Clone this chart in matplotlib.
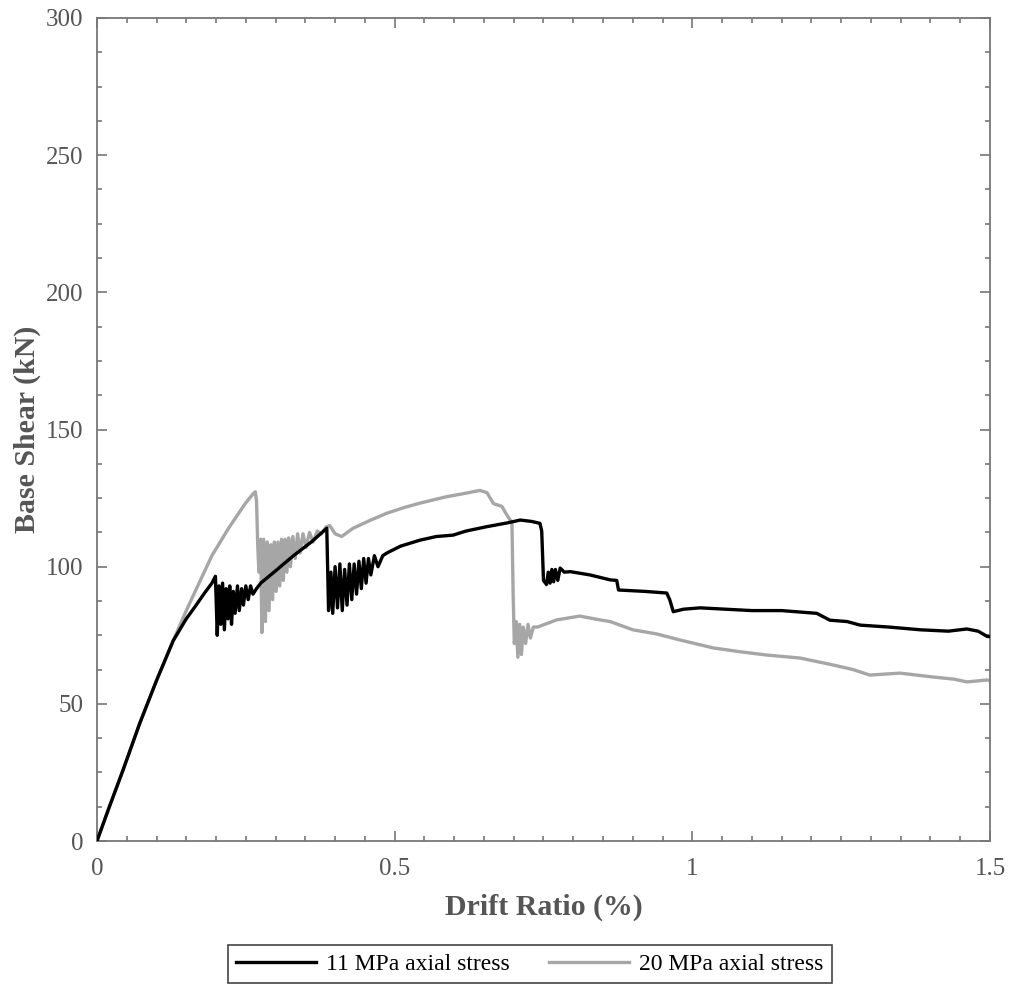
import matplotlib
matplotlib.use("Agg")
import matplotlib.pyplot as plt
from matplotlib.ticker import MultipleLocator
import numpy as np

# Kurvendaten
drift_11 = [0, 0.020, 0.044, 0.072, 0.100, 0.128, 0.150, 0.165, 0.181, 0.193, 0.199,
            0.202, 0.205, 0.208, 0.211, 0.214, 0.217, 0.220, 0.223, 0.226, 0.229, 0.232, 0.236,
            0.239, 0.243, 0.246, 0.250, 0.254, 0.258, 0.262, 0.268, 0.275, 0.300, 0.330, 0.360,
            0.386, 0.389, 0.393, 0.396, 0.400, 0.404, 0.408, 0.412, 0.416, 0.420, 0.424, 0.428,
            0.432, 0.436, 0.440, 0.444, 0.448, 0.452, 0.456, 0.460, 0.466, 0.472, 0.480, 0.487,
            0.510, 0.543, 0.570, 0.598, 0.620, 0.655, 0.690, 0.711, 0.730, 0.744, 0.747, 0.750,
            0.755, 0.758, 0.761, 0.764, 0.767, 0.770, 0.774, 0.778, 0.785, 0.795, 0.828, 0.862,
            0.873, 0.876, 0.920, 0.957, 0.962, 0.968, 0.985, 1.013, 1.100, 1.150, 1.209, 1.231,
            1.260, 1.282, 1.330, 1.383, 1.430, 1.461, 1.480, 1.495, 1.500]
shear_11 = [0, 12, 26, 43, 58.5, 73, 81, 85.5, 90.5, 94, 96.5,
            75, 93, 79, 94, 77, 92, 81, 93, 79, 91, 83, 93,
            84, 92, 86, 93, 88, 93, 90, 92, 94, 98.5, 104, 109,
            114, 84, 98, 83, 100, 85, 101, 84, 99, 86, 101, 88,
            101, 90, 102, 92, 103, 94, 103, 97, 104, 100, 104, 105,
            107.5, 109.7, 111, 111.5, 113, 114.6, 116, 117, 116.5, 115.8, 113, 95,
            93.5, 98, 94, 99, 94.5, 99, 95, 99.5, 98, 98.2, 97, 95.2,
            95, 91.5, 91, 90.4, 88, 83.6, 84.5, 85, 84, 84, 83, 80.5,
            80, 78.7, 78, 77, 76.5, 77.3, 76.5, 74.6, 74.5]

drift_20 = [0, 0.020, 0.044, 0.072, 0.100, 0.128, 0.150, 0.165, 0.193, 0.221, 0.249,
            0.262, 0.266, 0.268, 0.270, 0.272, 0.275, 0.277, 0.280, 0.283, 0.286, 0.289, 0.292,
            0.295, 0.298, 0.301, 0.304, 0.307, 0.310, 0.313, 0.316, 0.319, 0.322, 0.325, 0.329,
            0.333, 0.337, 0.341, 0.346, 0.351, 0.357, 0.363, 0.370, 0.377, 0.385, 0.391, 0.400,
            0.411, 0.430, 0.460, 0.487, 0.515, 0.543, 0.587, 0.620, 0.643, 0.655, 0.666, 0.680,
            0.688, 0.697, 0.699, 0.701, 0.704, 0.707, 0.710, 0.713, 0.716, 0.720, 0.724, 0.728,
            0.733, 0.740, 0.772, 0.811, 0.845, 0.862, 0.900, 0.940, 0.979, 1.035, 1.080, 1.125,
            1.181, 1.236, 1.270, 1.298, 1.349, 1.404, 1.440, 1.461, 1.495, 1.500]
shear_20 = [0, 12, 26, 43, 58.5, 73, 84, 91, 104, 114, 123,
            126.5, 127.3, 124, 108, 98, 110, 76, 110, 80, 109, 84, 108,
            88, 109, 91, 109, 93, 110, 95, 110, 98, 110.5, 100, 111,
            103, 112, 105, 112, 107, 112.5, 109, 113, 112, 114.5, 115, 112,
            111, 114, 117, 119.5, 121.5, 123.2, 125.5, 126.8, 127.8, 127, 123, 122,
            119, 116, 90, 72, 80, 67, 79, 68, 78, 72, 79, 74,
            78, 78, 80.6, 82, 80.6, 80, 77, 75.5, 73.3, 70.4, 69, 67.8,
            66.7, 64.2, 62.5, 60.5, 61.2, 59.8, 59, 58, 58.7, 58.5]

plt.rcParams['font.family'] = ['Liberation Serif', 'DejaVu Serif']

fig = plt.figure(figsize=(10.09, 9.89), dpi=100)
ax = fig.add_axes([0.0961, 0.1496, 0.8851, 0.8322])

ax.plot(drift_20, shear_20, color='#a6a6a6', linewidth=2.4, label='20 MPa axial stress', zorder=2)
ax.plot(drift_11, shear_11, color='black', linewidth=2.4, label='11 MPa axial stress', zorder=3)

ax.set_xlim(0, 1.5)
ax.set_ylim(0, 300)
ax.xaxis.set_major_locator(MultipleLocator(0.5))
ax.xaxis.set_minor_locator(MultipleLocator(0.05))
ax.yaxis.set_major_locator(MultipleLocator(50))
ax.yaxis.set_minor_locator(MultipleLocator(12.5))
ax.set_xticks([0, 0.5, 1, 1.5])
ax.set_xticklabels(['0', '0.5', '1', '1.5'])

grau = '#777777'
ax.tick_params(which='both', direction='in', top=True, right=True, colors=grau,
               labelcolor='#555555', labelsize=18, width=1.2)
ax.tick_params(axis='x', which='major', length=7, pad=12)
ax.tick_params(axis='y', which='major', length=7, pad=10)
ax.tick_params(which='minor', length=3.5)
for s in ax.spines.values():
    s.set_color(grau)
    s.set_linewidth(1.3)

ax.set_xlabel('Drift Ratio (%)', fontsize=21.5, fontweight='bold', color='#555555', labelpad=10)
ax.set_ylabel('Base Shear (kN)', fontsize=21.5, fontweight='bold', color='#555555', labelpad=3)

h, l = ax.get_legend_handles_labels()
leg = fig.legend(h[::-1], l[::-1], loc='center', bbox_to_anchor=(0.525, 0.025), ncol=2,
                 fontsize=17, handlelength=3.4, handletextpad=0.42, columnspacing=1.65,
                 fancybox=False, framealpha=1, borderpad=0.35)
leg.get_frame().set_edgecolor('#444444')
leg.get_frame().set_linewidth(1.2)

fig.savefig('out.png', dpi=100)
